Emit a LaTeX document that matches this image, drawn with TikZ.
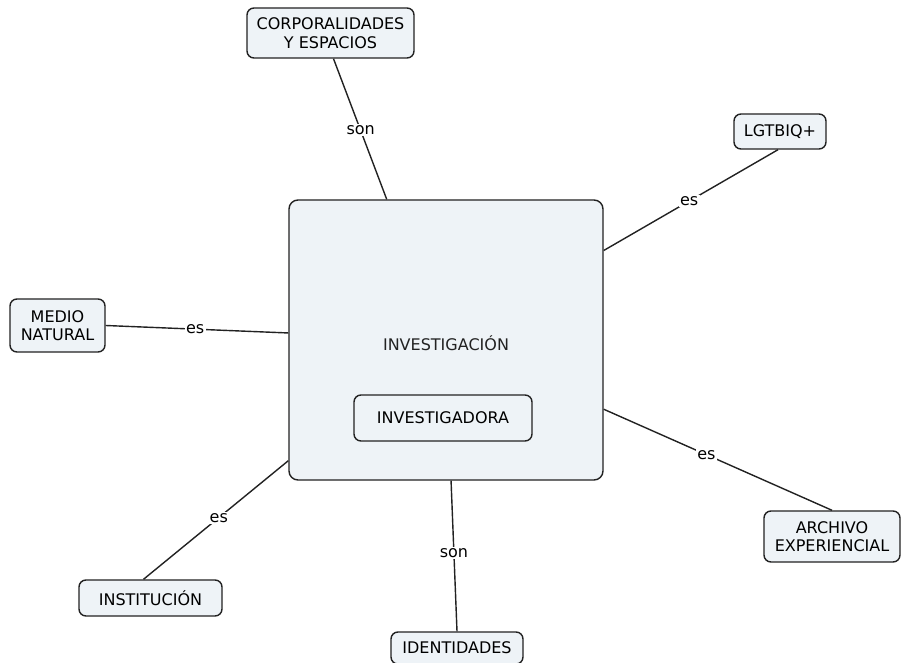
\documentclass[tikz,border=0pt]{standalone}
\usepackage{fontspec}
\setmainfont{DejaVu Sans}
\usetikzlibrary{calc}
\definecolor{boxfill}{HTML}{EEF3F7}
\definecolor{boxline}{HTML}{222222}
\tikzset{
  concept/.style={draw=boxline, fill=boxfill, line width=1.4pt, rounded corners=7pt,
    align=center, inner sep=0pt, font=\fontsize{16}{18.5}\selectfont},
  link/.style={draw=boxline, line width=1.4pt},
  lbl/.style={fill=white, inner sep=1.5pt, font=\fontsize{16}{18}\selectfont}
}
\begin{document}
\begin{tikzpicture}[x=1pt,y=-1pt]
\useasboundingbox[fill=white] (0,0) rectangle (903,663);
% main container
\node[concept, minimum width=314pt, minimum height=280pt, rounded corners=9pt] (main) at (446,340) {};
\node[font=\fontsize{16}{18}\selectfont, text=boxline] (inv) at (446,343) {INVESTIGACIÓN};
\node[concept, minimum width=178pt, minimum height=46pt] (invr) at (443,418) {INVESTIGADORA};
% outer concepts
\node[concept, minimum width=167pt, minimum height=50pt] (corp) at (330.5,33) {CORPORALIDADES\\Y ESPACIOS};
\node[concept, minimum width=92pt, minimum height=35pt] (lgtb) at (780,131.5) {LGTBIQ+};
\node[concept, minimum width=95pt, minimum height=53pt] (medio) at (57.5,325.5) {MEDIO\\NATURAL};
\node[concept, minimum width=143pt, minimum height=36pt] (inst) at (150.5,598) {INSTITUCIÓN};
\node[concept, minimum width=132pt, minimum height=32pt] (iden) at (457,648) {IDENTIDADES};
\node[concept, minimum width=136pt, minimum height=51pt] (arch) at (832,536.5) {ARCHIVO\\EXPERIENCIAL};
% connectors
\draw[link] ([xshift=3pt]corp.south) -- node[lbl, pos=0.51] (l1) {son} ($(main.north west)!0.312!(main.north east)$);
\draw[link] ([xshift=-2pt]lgtb.south) -- node[lbl, pos=0.51] (l2) {es} ($(main.north east)!0.182!(main.south east)$);
\draw[link] (medio.east) -- node[lbl, pos=0.49] (l3) {es} ($(main.north west)!0.475!(main.south west)$);
\draw[link] ([xshift=-7pt]inst.north) -- node[lbl, pos=0.52] (l4) {es} ($(main.north west)!0.929!(main.south west)$);
\draw[link] (iden.north) -- node[lbl, pos=0.52] (l5) {son} ($(main.south west)!0.516!(main.south east)$);
\draw[link] (arch.north) -- node[lbl, pos=0.55] (l6) {es} ($(main.north east)!0.746!(main.south east)$);
\end{tikzpicture}
\end{document}
